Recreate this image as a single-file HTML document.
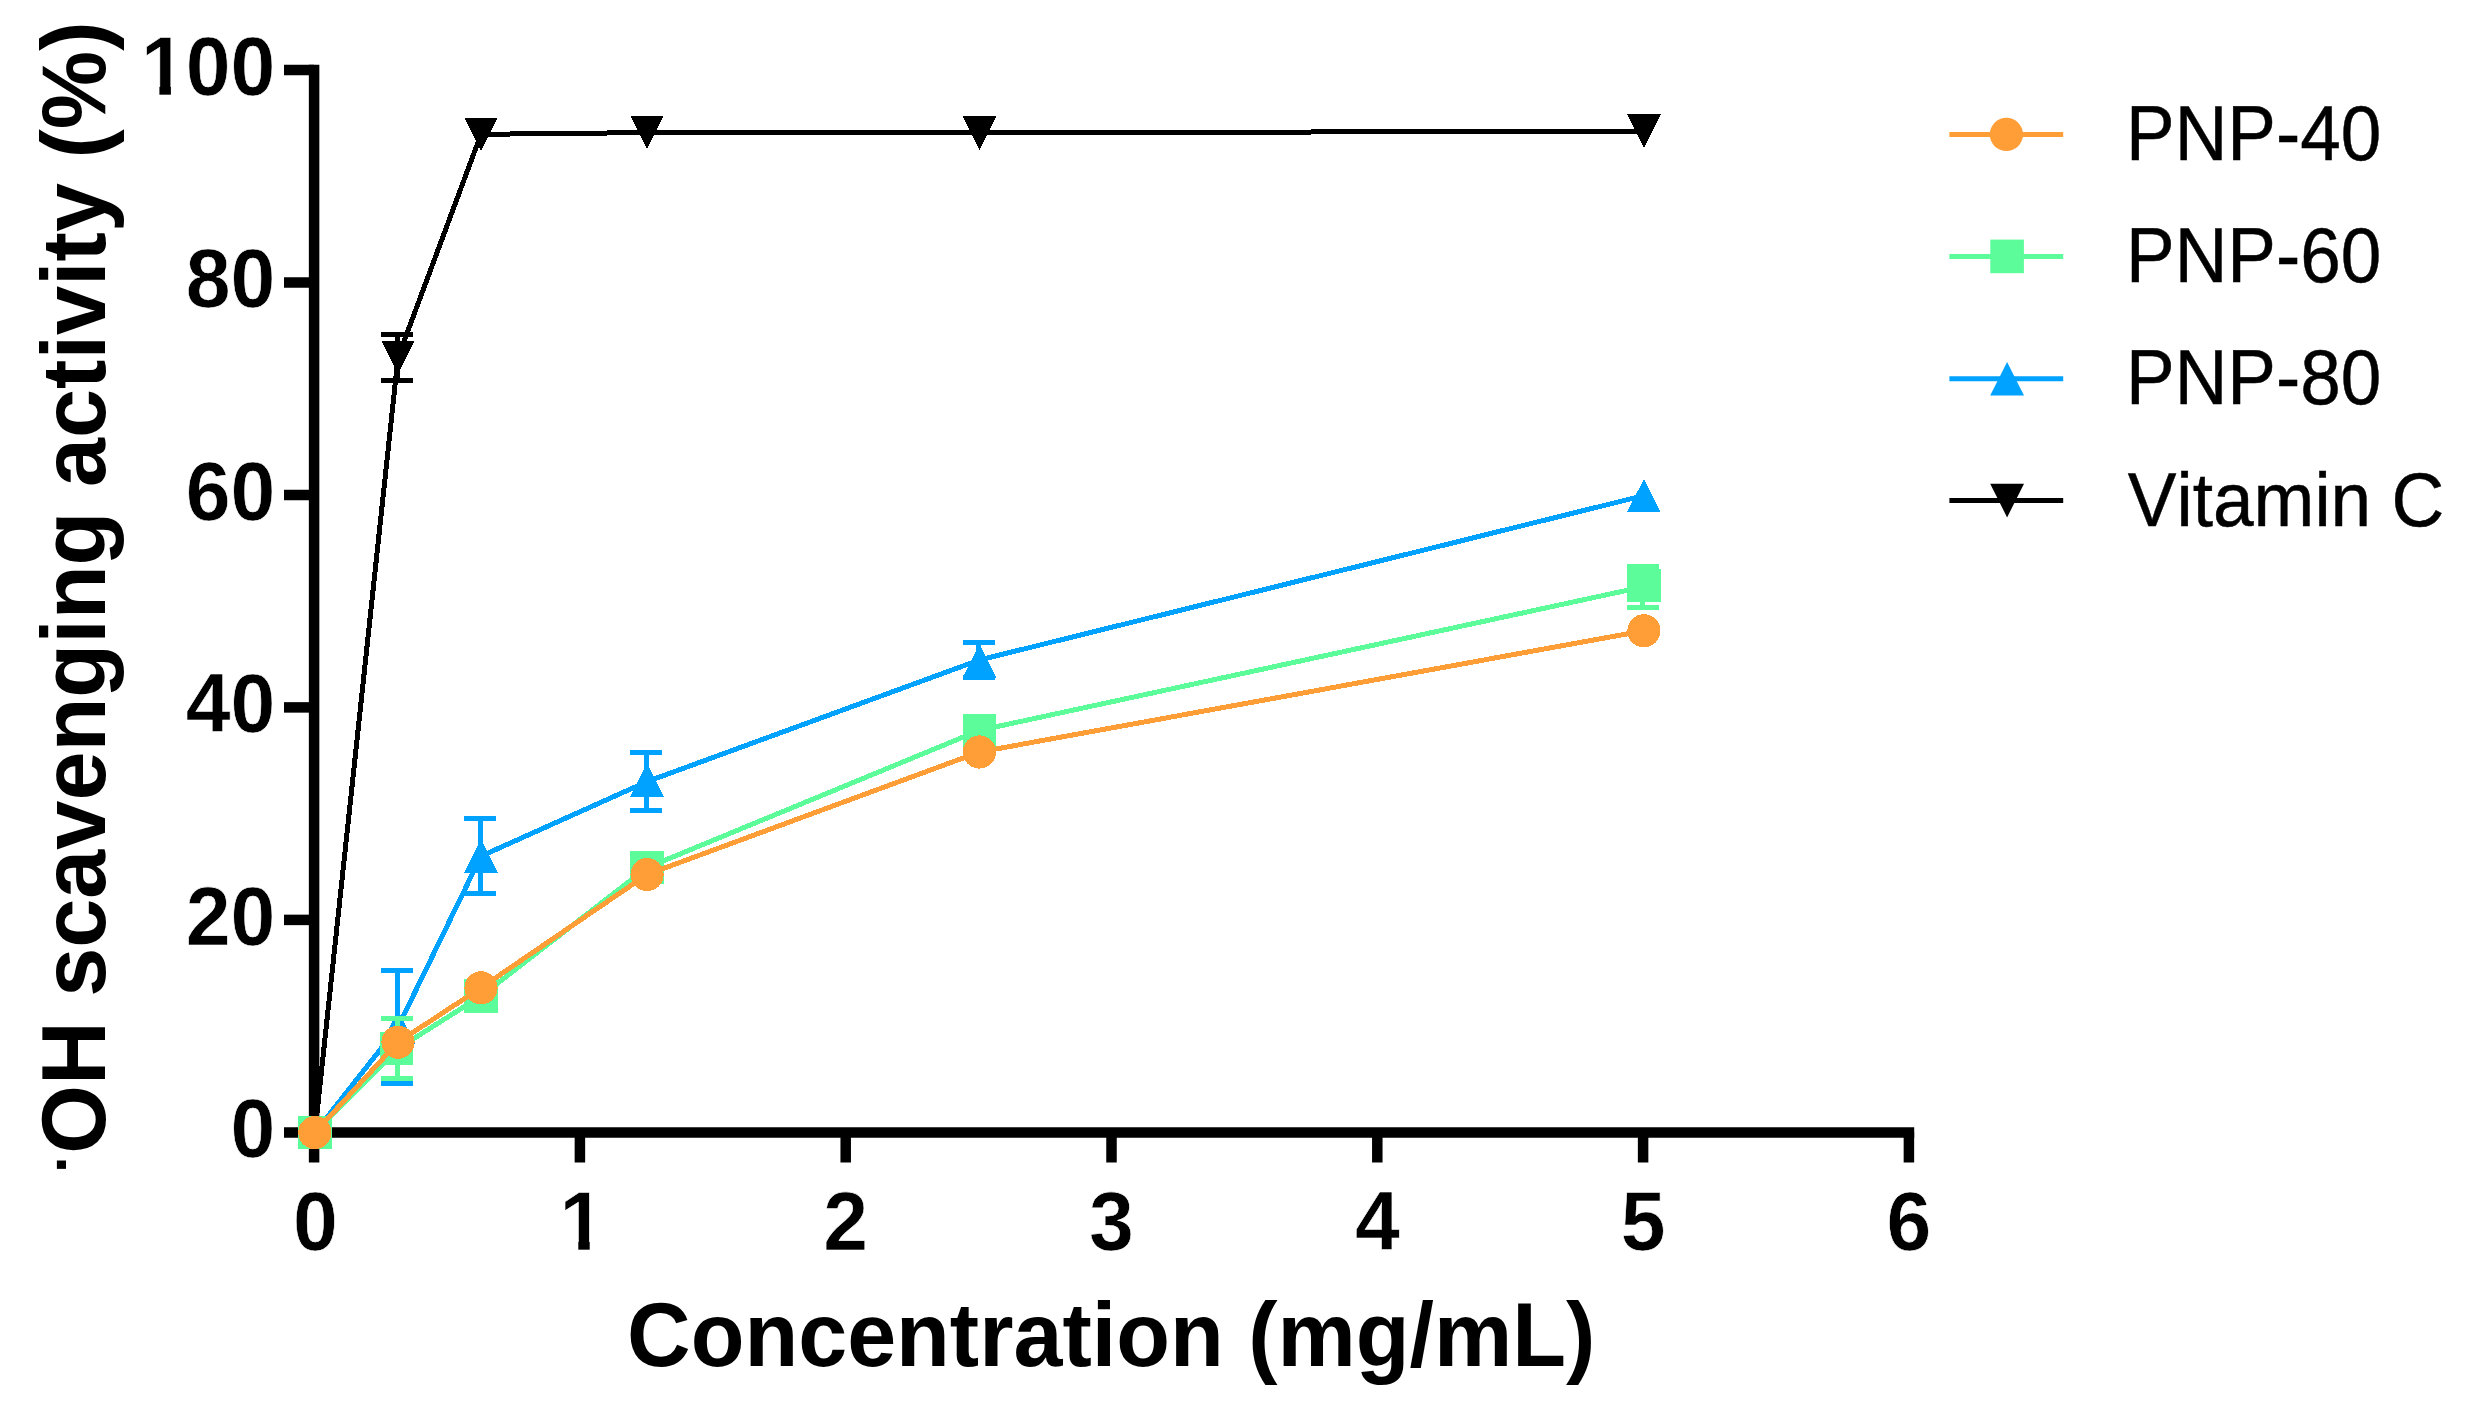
<!DOCTYPE html>
<html lang="en">
<head>
<meta charset="utf-8">
<title>OH scavenging activity</title>
<style>
html,body{margin:0;padding:0;background:#fff;}
body{width:2467px;height:1409px;overflow:hidden;}
svg{display:block;}
text{font-family:"Liberation Sans",Arial,Helvetica,sans-serif;fill:#000;font-kerning:none;}
.dot{font-size:59.5px;}
.tk{font-size:80.6px;font-weight:bold;stroke:#fff;stroke-width:0.6px;}
.lg{font-size:73.6px;stroke:#000;stroke-width:0.45px;}
.ttl{font-size:88px;font-weight:bold;}
</style>
</head>
<body>
<svg width="2467" height="1409" viewBox="0 0 2467 1409">
<rect width="2467" height="1409" fill="#fff"/>
<g id="axes">
<path d="M314.1 64.8V1162.5" stroke="#000" stroke-width="10.5" fill="none"/>
<path d="M284 1132.4H1914.2" stroke="#000" stroke-width="10.5" fill="none"/>
<path d="M284 919.9H314.1" stroke="#000" stroke-width="10.5" fill="none"/>
<path d="M284 707.4H314.1" stroke="#000" stroke-width="10.5" fill="none"/>
<path d="M284 495.0H314.1" stroke="#000" stroke-width="10.5" fill="none"/>
<path d="M284 282.5H314.1" stroke="#000" stroke-width="10.5" fill="none"/>
<path d="M284 70.0H314.1" stroke="#000" stroke-width="10.5" fill="none"/>
<path d="M579.9 1132.4V1162.5" stroke="#000" stroke-width="10.5" fill="none"/>
<path d="M845.7 1132.4V1162.5" stroke="#000" stroke-width="10.5" fill="none"/>
<path d="M1111.5 1132.4V1162.5" stroke="#000" stroke-width="10.5" fill="none"/>
<path d="M1377.3 1132.4V1162.5" stroke="#000" stroke-width="10.5" fill="none"/>
<path d="M1643.1 1132.4V1162.5" stroke="#000" stroke-width="10.5" fill="none"/>
<path d="M1908.9 1132.4V1162.5" stroke="#000" stroke-width="10.5" fill="none"/>
</g>
<g id="ticklabels">
<text transform="translate(275.4,1157.0) scale(1,1.045)" text-anchor="end" class="tk">0</text>
<text transform="translate(275.4,944.5) scale(1,1.045)" text-anchor="end" class="tk">20</text>
<text transform="translate(275.4,732.0) scale(1,1.045)" text-anchor="end" class="tk">40</text>
<text transform="translate(275.4,519.6) scale(1,1.045)" text-anchor="end" class="tk">60</text>
<text transform="translate(275.4,307.1) scale(1,1.045)" text-anchor="end" class="tk">80</text>
<text transform="translate(275.4,94.6) scale(1,1.045)" text-anchor="end" class="tk">100</text>
<text transform="translate(315.5,1250.3) scale(1,1.045)" text-anchor="middle" class="tk">0</text>
<text transform="translate(581.9,1250.3) scale(1,1.045)" text-anchor="middle" class="tk">1</text>
<text transform="translate(845.7,1250.3) scale(1,1.045)" text-anchor="middle" class="tk">2</text>
<text transform="translate(1111.5,1250.3) scale(1,1.045)" text-anchor="middle" class="tk">3</text>
<text transform="translate(1377.3,1250.3) scale(1,1.045)" text-anchor="middle" class="tk">4</text>
<text transform="translate(1643.1,1250.3) scale(1,1.045)" text-anchor="middle" class="tk">5</text>
<text transform="translate(1908.9,1250.3) scale(1,1.045)" text-anchor="middle" class="tk">6</text>
<rect x="143.4" y="85.4" width="16" height="11.6" fill="#fff"/><rect x="170.9" y="85.4" width="16" height="11.6" fill="#fff"/>
<rect x="562.3" y="1240.4" width="16" height="11.6" fill="#fff"/><rect x="589.7" y="1240.4" width="16" height="11.6" fill="#fff"/>
</g>
<text class="ttl" transform="translate(1111.2,1366.2) scale(1.0005,1.04)" text-anchor="middle">Concentration (mg/mL)</text>
<text class="ttl" transform="translate(105.1,1173) rotate(-90) scale(1.0024,1.04)"><tspan class="dot" dx="0" dy="-22.5">·</tspan><tspan dx="-0.5" dy="22.5">OH scavenging activity (%)</tspan></text>
<g id="series" shape-rendering="crispEdges">
<g>
<path d="M397.0 334.5V380.5M381.1 334.5h32M381.1 380.5h32" stroke="#000" stroke-width="5" fill="none"/>
<polyline points="314.9,1132.6 398.0,357.5 481.0,134.3 647.1,132.6 979.4,132.5 1643.9,131.5" fill="none" stroke="#000" stroke-width="5.0" stroke-linejoin="round"/>
<path d="M314.9 1149.4L331.8 1115.8H298.0Z" fill="#000"/>
<path d="M398.0 374.3L414.9 340.7H381.1Z" fill="#000"/>
<path d="M481.0 151.1L497.9 117.5H464.1Z" fill="#000"/>
<path d="M647.1 149.1L664.0 115.5H630.2Z" fill="#000"/>
<path d="M979.4 149.8L996.3 116.2H962.5Z" fill="#000"/>
<path d="M1643.9 147.9L1660.8 114.3H1627.0Z" fill="#000"/>
</g>
<g>
<path d="M397.0 970.2V1083.8M381.1 970.2h32M381.1 1083.8h32" stroke="#00A2FF" stroke-width="5" fill="none"/>
<path d="M480.0 818.5V893.9M464.1 818.5h32M464.1 893.9h32" stroke="#00A2FF" stroke-width="5" fill="none"/>
<path d="M646.1 752.6V810.6M630.2 752.6h32M630.2 810.6h32" stroke="#00A2FF" stroke-width="5" fill="none"/>
<path d="M978.4 642.4V677.6M962.5 642.4h32M962.5 677.6h32" stroke="#00A2FF" stroke-width="5" fill="none"/>
<polyline points="314.9,1132.6 398.0,1027.0 481.0,856.2 647.1,781.6 979.4,660.0 1643.9,495.6" fill="none" stroke="#00A2FF" stroke-width="5.0" stroke-linejoin="round"/>
<path d="M314.9 1115.8L331.8 1149.4H298.0Z" fill="#00A2FF"/>
<path d="M398.0 1010.2L414.9 1043.8H381.1Z" fill="#00A2FF"/>
<path d="M481.0 839.4L497.9 873.0H464.1Z" fill="#00A2FF"/>
<path d="M647.1 763.2L664.0 796.8H630.2Z" fill="#00A2FF"/>
<path d="M979.4 644.2L996.3 677.8H962.5Z" fill="#00A2FF"/>
<path d="M1643.9 478.8L1660.8 512.4H1627.0Z" fill="#00A2FF"/>
</g>
<g>
<path d="M397.0 1018.2V1078.8M381.1 1018.2h32M381.1 1078.8h32" stroke="#5CFC9A" stroke-width="5" fill="none"/>
<path d="M1642.9 566.4V607.0M1627.0 566.4h32M1627.0 607.0h32" stroke="#5CFC9A" stroke-width="5" fill="none"/>
<polyline points="314.9,1132.6 398.0,1048.5 481.0,996.1 647.1,867.6 979.4,730.4 1643.9,586.7" fill="none" stroke="#5CFC9A" stroke-width="5.0" stroke-linejoin="round"/>
<rect x="298.1" y="1115.8" width="33.6" height="33.6" fill="#5CFC9A"/>
<rect x="379.7" y="1031.7" width="33.6" height="33.6" fill="#5CFC9A"/>
<rect x="464.2" y="979.3" width="33.6" height="33.6" fill="#5CFC9A"/>
<rect x="630.4" y="850.8" width="33.6" height="33.6" fill="#5CFC9A"/>
<rect x="962.6" y="713.6" width="33.6" height="33.6" fill="#5CFC9A"/>
<rect x="1627.1" y="568.5" width="33.6" height="33.6" fill="#5CFC9A"/>
</g>
<g>
<polyline points="314.9,1132.6 398.0,1042.2 481.0,987.8 647.1,874.5 979.4,752.0 1643.9,630.8" fill="none" stroke="#FF9E37" stroke-width="5.0" stroke-linejoin="round"/>
<circle cx="314.9" cy="1132.6" r="16.6" fill="#FF9E37"/>
<circle cx="398.0" cy="1042.2" r="16.6" fill="#FF9E37"/>
<circle cx="481.0" cy="987.8" r="16.6" fill="#FF9E37"/>
<circle cx="647.1" cy="874.5" r="16.6" fill="#FF9E37"/>
<circle cx="979.4" cy="752.0" r="16.6" fill="#FF9E37"/>
<circle cx="1643.9" cy="630.8" r="16.6" fill="#FF9E37"/>
</g>
</g>
<g id="legend">
<path d="M1949.4 134.4H2063.2" stroke="#FF9E37" stroke-width="5" fill="none"/>
<circle cx="2006.4" cy="134.4" r="16.6" fill="#FF9E37"/>
<text transform="translate(2126.0,160.0) scale(0.991,1.045)" class="lg">PNP-40</text>
<path d="M1949.4 256.4H2063.2" stroke="#5CFC9A" stroke-width="5" fill="none"/>
<rect x="1990.3" y="239.6" width="33.6" height="33.6" fill="#5CFC9A"/>
<text transform="translate(2126.0,282.0) scale(0.991,1.045)" class="lg">PNP-60</text>
<path d="M1949.4 378.8H2063.2" stroke="#00A2FF" stroke-width="5" fill="none"/>
<path d="M2007.1 362.0L2024.0 395.6H1990.2Z" fill="#00A2FF"/>
<text transform="translate(2126.0,403.8) scale(0.991,1.045)" class="lg">PNP-80</text>
<path d="M1949.4 500.6H2063.2" stroke="#000" stroke-width="5" fill="none"/>
<path d="M2007.1 517.4L2024.0 483.8H1990.2Z" fill="#000"/>
<text transform="translate(2127.8,526.2) scale(0.992,1.045)" class="lg">Vitamin C</text>
</g>
</svg>
</body>
</html>
